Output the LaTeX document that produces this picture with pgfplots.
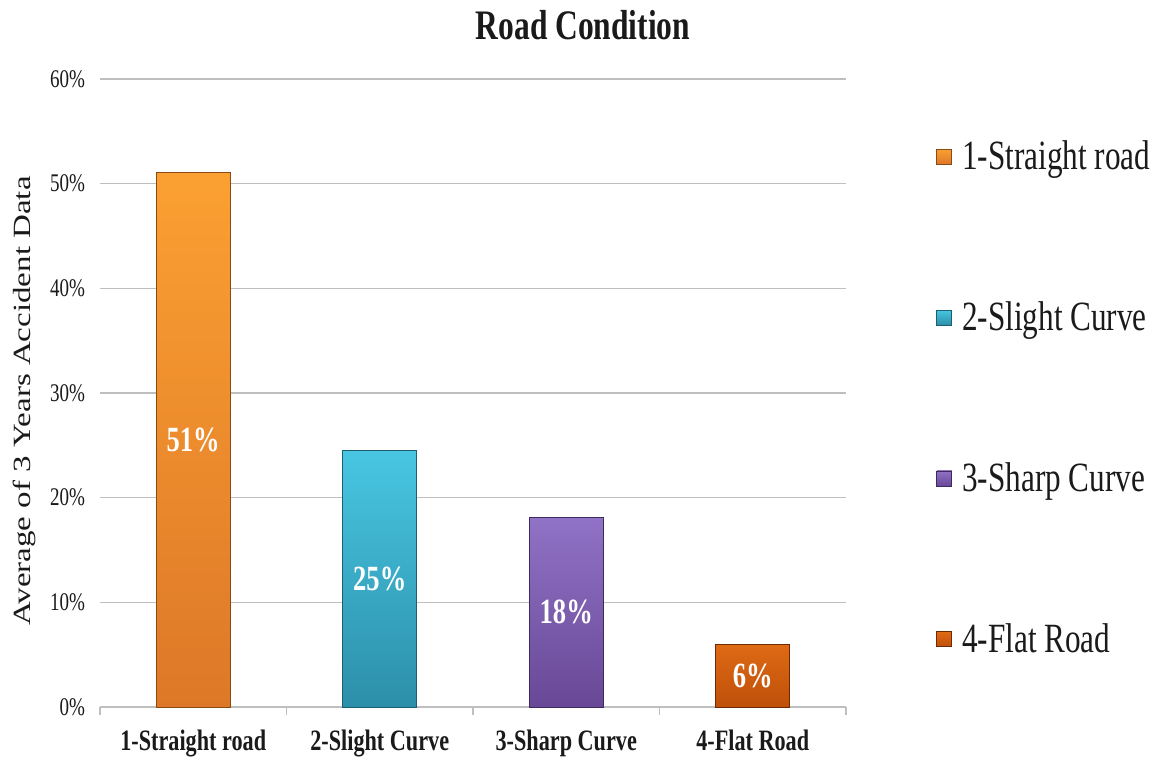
\documentclass[border=0pt]{standalone}
\usepackage{fontspec}
\setmainfont{Liberation Serif}[FakeStretch=0.75]
\newfontfamily\ylabfont{Liberation Serif}
\usepackage{graphicx}
\usepackage{pgfplots}
\pgfplotsset{compat=1.18}
\definecolor{gridgray}{HTML}{BFBFBF}
\definecolor{oTop}{HTML}{FBA032}
\definecolor{oBot}{HTML}{DD7828}
\definecolor{oEdge}{HTML}{8A4A14}
\definecolor{tTop}{HTML}{48C6E2}
\definecolor{tBot}{HTML}{2C8FA9}
\definecolor{tEdge}{HTML}{1D5F70}
\definecolor{pTop}{HTML}{9072C6}
\definecolor{pBot}{HTML}{684896}
\definecolor{pEdge}{HTML}{3E2A5C}
\definecolor{rTop}{HTML}{DE6A14}
\definecolor{rBot}{HTML}{BF500A}
\definecolor{rEdge}{HTML}{6E2A05}
\definecolor{txt}{HTML}{1A1A1A}
\begin{document}
\begin{tikzpicture}
\useasboundingbox (-50pt,-25pt) rectangle (530pt,353.5pt);
\begin{axis}[
  at={(0,0)}, anchor=south west,
  scale only axis, width=373pt, height=314pt,
  xmin=-0.5, xmax=3.5, ymin=0, ymax=60,
  ytick={0,10,...,60},
  yticklabel={\pgfmathprintnumber{\tick}\%},
  /pgf/number format/assume math mode=true,
  xtick={0,1,2,3},
  xticklabels={1-Straight road,2-Slight Curve,3-Sharp Curve,4-Flat Road},
  minor xtick={-0.5,0.5,1.5,2.5,3.5},
  major tick length=0pt, minor tick length=4pt,
  tick align=outside,
  axis x line*=bottom, axis y line*=left,
  x axis line style={-, draw=gridgray, line width=0.75pt},
  y axis line style={draw=none},
  ytick style={draw=none},
  major x tick style={draw=none},
  minor x tick style={draw=gridgray, line width=0.75pt},
  ymajorgrids, grid style={draw=gridgray, line width=0.75pt},
  yticklabel style={font=\fontsize{12.7}{14}\selectfont, text=txt, xshift=-4pt},
  xticklabel style={font=\bfseries\fontsize{14.8}{16}\selectfont, text=txt, yshift=-8pt},
  ylabel={\scalebox{1}[0.75]{\ylabfont\fontsize{16.5}{18}\selectfont Average of 3 Years Accident Data}},
  ylabel style={at={([xshift=-38pt,yshift=-4pt]axis description cs:0,0.5)}, anchor=center, text=txt},
  legend cell align=left,
  legend image code/.code={\draw[#1,/tikz/.cd,line width=0.4pt] (0pt,-3.75pt) rectangle (7.5pt,3.75pt);},
  legend style={at={([xshift=45pt,yshift=-2.5pt]axis description cs:1,0.5)}, anchor=west,
    draw=none, fill=none, inner sep=0pt, row sep=60.5pt,
    font=\fontsize{20.8}{24}\selectfont, text=txt,
    nodes={inner sep=2pt},
    /tikz/every odd column/.append style={column sep=3pt}},
]
\addplot[ybar, bar width=37pt, bar shift=0pt, draw=oEdge, top color=oTop, bottom color=oBot] coordinates {(0,51.1)};
\addlegendentry{1-Straight road}
\addplot[ybar, bar width=37pt, bar shift=0pt, draw=tEdge, top color=tTop, bottom color=tBot] coordinates {(1,24.5)};
\addlegendentry{2-Slight Curve}
\addplot[ybar, bar width=37pt, bar shift=0pt, draw=pEdge, top color=pTop, bottom color=pBot] coordinates {(2,18.1)};
\addlegendentry{3-Sharp Curve}
\addplot[ybar, bar width=37pt, bar shift=0pt, draw=rEdge, top color=rTop, bottom color=rBot] coordinates {(3,6.0)};
\addlegendentry{4-Flat Road}
\addplot[forget plot, draw=none, mark=none, nodes near coords, point meta=explicit symbolic,
  every node near coord/.append style={anchor=center, text=white, font=\bfseries\fontsize{17.7}{20}\selectfont}]
  coordinates {(0,25.55)[51\%] (1,12.25)[25\%] (2,9.05)[18\%] (3,3.0)[6\%]};
\end{axis}
\node[font=\bfseries\fontsize{21}{24}\selectfont, text=txt] at (241.5pt,341pt) {Road Condition};
\end{tikzpicture}
\end{document}
